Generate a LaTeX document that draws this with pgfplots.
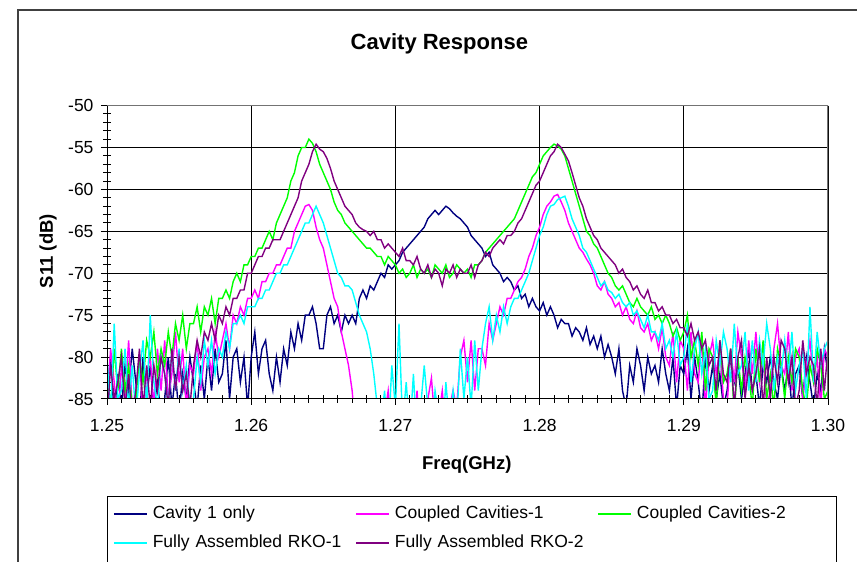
\documentclass[border=0pt]{standalone}
\usepackage{pgfplots}
\pgfplotsset{compat=1.18}
\usepackage{pgfplotstable}
\usepackage{fontspec}
\setmainfont{Liberation Sans}
\definecolor{cnavy}{HTML}{000080}
\definecolor{cmag}{HTML}{FF00FF}
\definecolor{cgreen}{HTML}{00FF00}
\definecolor{ccyan}{HTML}{00FFFF}
\definecolor{cpurple}{HTML}{800080}
\pgfplotstableread{
x a b c d e
1.25000 -84 -86 -82 -80 -88
1.25025 -80 -79 -86 -87 -81
1.25050 -87 -83 -79 -76 -85
1.25075 -82 -88 -84 -85 -83
1.25100 -86 -81 -79 -84 -80
1.25125 -81 -85 -84 -79 -86
1.25150 -84 -78 -81 -86 -82
1.25175 -79 -86 -86 -81 -87
1.25200 -83 -84 -85 -87 -84
1.25225 -88 -80 -80 -82 -79
1.25250 -80 -87 -83 -78 -86
1.25275 -85 -82 -78 -86 -81
1.25300 -81 -80 -80 -75 -86
1.25325 -86 -86 -77 -83 -81
1.25350 -83 -79 -82 -86 -84
1.25375 -87 -84 -79 -80 -80
1.25400 -85 -78 -81 -82 -82
1.25425 -80 -85 -77 -86 -86
1.25450 -86 -82 -80 -79 -79
1.25475 -82 -77 -76 -84 -84
1.25500 -87 -83 -78 -79 -80
1.25525 -82 -79 -75 -84 -84
1.25550 -85 -86 -79 -81 -82
1.25575 -80 -81 -76 -86 -86
1.25600 -83 -82 -76 -85 -81
1.25625 -86 -78 -74 -80 -78
1.25650 -81 -84 -77 -83 -80
1.25675 -85 -80 -74 -78 -77
1.25700 -80 -79 -75 -81 -78
1.25725 -84 -82 -73 -78 -76
1.25750 -79 -77 -76 -82 -78
1.25775 -83 -80 -73 -79 -75
1.25800 -82 -78 -73 -80 -76
1.25825 -78 -76 -72 -77 -74
1.25850 -85 -79 -73 -79 -75
1.25875 -80 -75 -71 -76 -73
1.25900 -79 -76 -70 -76 -73
1.25925 -83 -74 -71 -75 -72
1.25950 -80 -75 -69 -76 -72
1.25975 -86 -73 -69 -74 -70
1.26000 -80 -73 -68 -74 -70
1.26025 -77 -72 -68 -74 -69
1.26050 -82 -73 -67 -73 -68
1.26075 -79 -71 -67 -73 -68
1.26100 -78 -71 -66 -72 -67
1.26125 -82 -70 -65 -72 -67
1.26150 -84 -70 -66 -71 -66
1.26175 -80 -69 -64 -70 -66
1.26200 -83 -69 -63 -70 -66
1.26225 -79 -68 -62 -69 -65
1.26250 -81 -67 -61 -69 -64
1.26275 -77 -67 -59 -68 -63
1.26300 -79 -65 -58 -67 -62
1.26325 -76 -64 -56 -66 -61
1.26350 -78 -63 -55 -65 -59
1.26375 -75 -62 -55 -64 -58
1.26400 -75 -61.8 -54 -64 -57
1.26425 -74 -62.5 -54.5 -63 -55.5
1.26450 -76 -64.5 -55.5 -62 -54.6
1.26475 -79 -66 -57 -63 -55.2
1.26500 -79 -67 -58 -64 -55.5
1.26525 -75 -69 -59 -65.5 -56.3
1.26550 -74 -71 -60 -67 -57.5
1.26575 -76 -73 -61.5 -68.5 -59
1.26600 -75 -74 -62.5 -70 -60
1.26625 -77 -77 -63 -70.5 -61
1.26650 -75 -79 -64 -71.5 -62
1.26675 -76 -81 -64.5 -71.5 -62.5
1.26700 -75 -84 -65 -72 -63
1.26725 -76 -89 -65.5 -73.5 -64
1.26750 -73 -86 -66 -75 -64.5
1.26775 -72 -90 -66.5 -76 -64.8
1.26800 -73 -88 -67 -77 -65
1.26825 -71.5 -86 -67 -79 -65.5
1.26850 -72 -90 -67.5 -82 -65
1.26875 -71 -87 -68 -86 -66
1.26900 -70 -90 -68 -88 -66
1.26925 -70.5 -87 -69 -84 -67
1.26950 -69 -84 -68 -90 -66.5
1.26975 -69.5 -89 -68.5 -81 -67
1.27000 -69 -88 -69 -86 -67.5
1.27025 -68.5 -90 -70 -76 -68
1.27050 -67.5 -86 -69.5 -88 -67
1.27075 -67 -89 -70.5 -83 -68.5
1.27100 -66.5 -86 -70 -89 -68.5
1.27125 -66 -89 -69 -82 -69
1.27150 -65.5 -84 -70.5 -90 -68
1.27175 -65 -90 -69.5 -86 -69.5
1.27200 -64.5 -88 -70 -81 -70
1.27225 -63.5 -85 -69.5 -86 -69
1.27250 -63 -82.5 -70.5 -89 -70.5
1.27275 -62.5 -88 -69 -84 -69.5
1.27300 -63 -87 -69.5 -87 -70
1.27325 -62.5 -84 -70 -90 -71.5
1.27350 -62 -89 -69 -83 -69.5
1.27375 -62.3 -86 -70.5 -88 -70
1.27400 -62.8 -84 -70 -84 -69
1.27425 -63.2 -86 -69 -88 -70.5
1.27450 -63.5 -80 -69.5 -79 -69.5
1.27475 -64 -78 -70 -85 -70
1.27500 -64.5 -83 -69.5 -80 -70
1.27525 -65.5 -78 -70.5 -86 -69
1.27550 -66 -84 -69 -78 -70.5
1.27575 -66.5 -79 -69 -84 -69
1.27600 -67 -79 -68.5 -79 -68.5
1.27625 -68 -81 -67.5 -76 -67.5
1.27650 -67.5 -76 -67 -74 -68
1.27675 -69 -78 -66.5 -78 -67
1.27700 -69.5 -76 -66 -75 -66.5
1.27725 -70 -74 -65.5 -77 -66
1.27750 -71 -75 -65 -74 -66.5
1.27775 -70.5 -73 -64.5 -76 -65.5
1.27800 -71 -73 -64 -74 -65.5
1.27825 -72 -72 -63.5 -73 -65
1.27850 -71.5 -71 -62.5 -73 -64
1.27875 -73 -70.5 -61.5 -72 -63.5
1.27900 -72.5 -69.5 -60.5 -71 -62.5
1.27925 -74 -68 -59.5 -70 -61.5
1.27950 -73 -67 -58.5 -68.5 -60.5
1.27975 -74 -65.5 -58 -67 -59.5
1.28000 -74.5 -64.5 -57 -65.5 -59
1.28025 -73.5 -63 -56 -64.5 -58
1.28050 -75 -62 -55.5 -63 -57
1.28075 -74 -61.5 -55 -62 -56
1.28100 -75 -60.8 -54.6 -61.8 -55.5
1.28125 -76.5 -60.6 -54.8 -61.2 -54.6
1.28150 -75.5 -61.5 -55.2 -61 -55
1.28175 -76 -62.5 -56 -60.8 -55.8
1.28200 -76 -64 -57.5 -62 -56.6
1.28225 -77.5 -65 -59 -63.5 -58
1.28250 -76.5 -66 -60.5 -64.5 -59.5
1.28275 -77 -67 -62 -65.5 -61
1.28300 -78 -67.5 -63.5 -67 -62
1.28325 -76.5 -68.3 -65 -67.5 -63.5
1.28350 -78.5 -69 -65.5 -68.5 -64.5
1.28375 -77.5 -70 -66.5 -69.5 -65.5
1.28400 -79 -71.5 -67 -70.5 -66
1.28425 -77.5 -72 -68 -71.5 -67
1.28450 -80 -71 -69 -71 -67.5
1.28475 -78.5 -72.5 -70 -72 -68
1.28500 -80 -73 -70.5 -72.3 -68.5
1.28525 -82 -74 -71.5 -73 -69
1.28550 -79 -73.5 -72 -72.5 -70
1.28575 -84 -75 -71.5 -73.5 -69.5
1.28600 -86 -74 -72.5 -74 -70.5
1.28625 -81 -75.5 -73.5 -73.5 -71
1.28650 -83 -76 -74 -75 -72
1.28675 -79 -74.5 -73 -74.5 -71.5
1.28700 -81 -76.5 -74 -75.5 -72.5
1.28725 -84 -77 -74.5 -76.5 -73
1.28750 -80 -76 -75 -75 -72
1.28775 -82 -78 -74 -77 -73.5
1.28800 -81 -77 -75.5 -77 -73.5
1.28825 -83 -79 -75 -78 -74.5
1.28850 -79 -76.5 -76 -76 -74
1.28875 -82 -80 -75 -79 -75
1.28900 -84 -81 -76 -78 -75
1.28925 -80 -77 -77.5 -80 -76
1.28950 -86 -83 -76.5 -77 -75.5
1.28975 -81 -78 -78 -81 -76.5
1.29000 -82 -79 -77 -80 -76.5
1.29025 -79 -84 -75 -76 -77.5
1.29050 -85 -77 -80 -83 -76
1.29075 -80 -82 -78 -79 -78
1.29100 -83 -83 -81 -77 -77
1.29125 -87 -78 -77 -82 -79
1.29150 -80 -86 -84 -79 -78
1.29175 -84 -80 -79 -85 -81
1.29200 -81 -78 -80 -84 -80
1.29225 -85 -82 -86 -78 -84
1.29250 -82 -79 -78 -81 -78
1.29275 -86 -85 -83 -77 -82
1.29300 -84 -86 -82 -79 -83
1.29325 -80 -79 -79 -83 -79
1.29350 -83 -83 -87 -76 -86
1.29375 -81 -77 -80 -82 -80
1.29400 -85 -80 -84 -81 -78
1.29425 -82 -84 -80 -77 -85
1.29450 -79 -78 -82 -84 -81
1.29475 -84 -82 -86 -78 -84
1.29500 -82 -77 -79 -83 -82
1.29525 -86 -83 -83 -78 -79
1.29550 -81 -80 -78 -81 -86
1.29575 -83 -86 -85 -76 -80
1.29600 -80 -84 -82 -79 -85
1.29625 -83 -79 -86 -84 -80
1.29650 -85 -76 -79 -80 -83
1.29675 -81 -81 -81 -82 -78
1.29700 -84 -82 -85 -78 -79
1.29725 -81 -77 -80 -82 -83
1.29750 -86 -84 -83 -77 -80
1.29775 -82 -80 -79 -84 -86
1.29800 -81 -79 -80 -81 -84
1.29825 -85 -85 -84 -79 -78
1.29850 -80 -81 -86 -85 -82
1.29875 -83 -78 -81 -74 -80
1.29900 -86 -83 -83 -83 -81
1.29925 -82 -80 -79 -77 -86
1.29950 -84 -86 -81 -81 -79
1.29975 -79 -79 -85 -79 -84
1.30000 -82 -80 -84 -78 -79
}\cavdata
\begin{document}
\begin{tikzpicture}[x=1pt,y=1pt]
\useasboundingbox (0,0) rectangle (857,562);
\draw[line width=1.6pt, black!75] (17.7,-40) -- (17.7,552) -- (900,552);
\draw[line width=1pt, black] (107,-40) -- (107,65) -- (836,65) -- (836,-40);
\begin{axis}[
  at={(107pt,163pt)}, anchor=south west,
  scale only axis, width=721pt, height=293.4pt,
  xmin=1.25, xmax=1.30, ymin=-85, ymax=-50,
  xtick={1.25,1.26,1.27,1.28,1.29,1.30},
  ytick={-85,-80,-75,-70,-65,-60,-55,-50},
  minor x tick num=9, minor y tick num=4,
  tick pos=left, tick align=center,
  major tick length=12pt, minor tick length=8pt,
  tick style={black, line width=1pt},
  grid=major, major grid style={black, line width=1pt},
  axis line style={draw=none},
  font=\fontsize{17.5}{21}\selectfont,
  /pgf/number format/assume math mode=true,
  xticklabel style={/pgf/number format/.cd, fixed, fixed zerofill, precision=2, /tikz/.cd, yshift=-11pt},
  yticklabel style={/pgf/number format/.cd, fixed, precision=0, /tikz/.cd, xshift=-4pt},
  title={Cavity Response},
  title style={at={(axis description cs:0.461,1.189)}, anchor=center, font=\fontsize{22}{26}\selectfont\bfseries},
  xlabel={Freq(GHz)},
  xlabel style={at={(axis description cs:0.499,-0.225)}, anchor=center, font=\fontsize{18.5}{22}\selectfont\bfseries},
  ylabel={S11 (dB)},
  ylabel style={at={(axis description cs:-0.0818,0.504)}, anchor=center, rotate=0, font=\fontsize{18.5}{22}\selectfont\bfseries},
  legend columns=3,
  legend cell align=left,
  legend image code/.code={\draw[#1, line width=1.6pt] (0pt,0pt) -- (33pt,0pt);},
  legend style={at={(axis description cs:0.0083,-0.362)}, anchor=north west, draw=none, fill=none,
    inner sep=0pt, font=\fontsize{17.5}{21}\selectfont, row sep=12pt, column sep=0pt,
    /tikz/every odd column/.append style={column sep=2pt},
    nodes={inner xsep=3pt, inner ysep=0pt, text width=199.5pt, text height=13pt, text depth=4pt, align=left}},
  every axis plot/.append style={line width=1.4pt},
]
\addplot[cnavy] table[x=x,y=a]{\cavdata};
\addlegendentry{Cavity 1 only}
\addplot[cmag] table[x=x,y=b]{\cavdata};
\addlegendentry{Coupled Cavities-1}
\addplot[cgreen] table[x=x,y=c]{\cavdata};
\addlegendentry{Coupled Cavities-2}
\addplot[ccyan] table[x=x,y=d]{\cavdata};
\addlegendentry{Fully Assembled RKO-1}
\addplot[cpurple] table[x=x,y=e]{\cavdata};
\addlegendentry{Fully Assembled RKO-2}
\draw[black!55, line width=1.6pt] (rel axis cs:0,1) -- (rel axis cs:1,1) -- (rel axis cs:1,0);
\draw[black, line width=1pt] (rel axis cs:0,1) -- (rel axis cs:0,0) -- (rel axis cs:1,0);
\end{axis}
\end{tikzpicture}
\end{document}
